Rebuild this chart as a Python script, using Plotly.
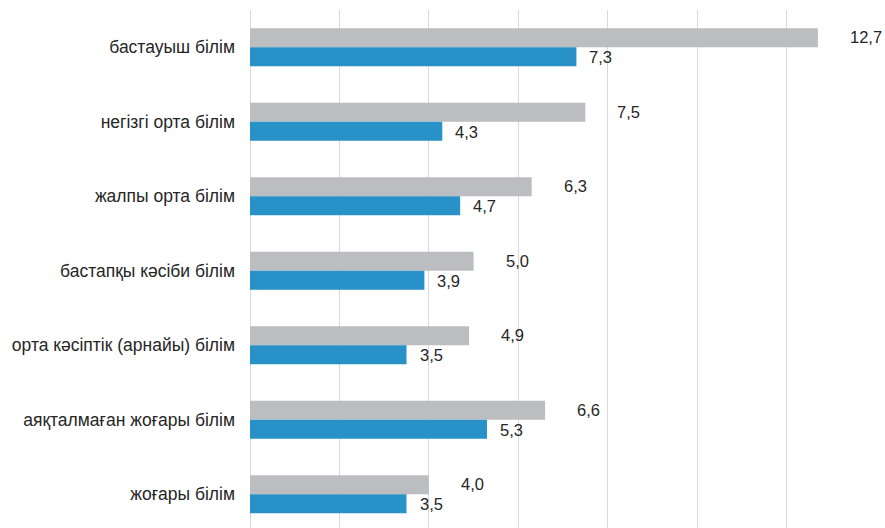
import plotly.graph_objects as go

categories = [
    "бастауыш білім",
    "негізгі орта білім",
    "жалпы орта білім",
    "бастапқы кәсіби білім",
    "орта кәсіптік (арнайы) білім",
    "аяқталмаған жоғары білім",
    "жоғары білім",
]
gray_values = [12.7, 7.5, 6.3, 5.0, 4.9, 6.6, 4.0]
blue_values = [7.3, 4.3, 4.7, 3.9, 3.5, 5.3, 3.5]
tick_values = [0, 2, 4, 6, 8, 10, 12, 14]

GRAY = "#bcbdc0"
BLUE = "#2892c8"
FONT = "Liberation Sans, Arial, sans-serif"
TXT = "#262626"

def fmt(v):
    return f"{v:.1f}".replace(".", ",")

fig = go.Figure()
fig.add_trace(go.Bar(y=categories, x=gray_values, orientation="h",
                     marker=dict(color=GRAY, line=dict(width=0)), name="gray"))
fig.add_trace(go.Bar(y=categories, x=blue_values, orientation="h",
                     marker=dict(color=BLUE, line=dict(width=0)), name="blue"))

annotations = []
for c, g, b in zip(categories, gray_values, blue_values):
    annotations.append(dict(x=g, y=c, xref="x", yref="y", text=fmt(g),
                            showarrow=False, xanchor="left", yanchor="middle",
                            xshift=30, yshift=10,
                            font=dict(family=FONT, size=16.5, color=TXT)))
    annotations.append(dict(x=b, y=c, xref="x", yref="y", text=fmt(b),
                            showarrow=False, xanchor="left", yanchor="middle",
                            xshift=11, yshift=-10,
                            font=dict(family=FONT, size=16.5, color=TXT)))

fig.update_layout(
    width=885, height=528,
    margin=dict(l=250, r=9, t=10, b=0),
    barmode="group", bargap=0.49, bargroupgap=0,
    plot_bgcolor="white", paper_bgcolor="white",
    showlegend=False,
    annotations=annotations,
    font=dict(family=FONT, size=17, color=TXT),
)
fig.update_xaxes(range=[0, 14], tickvals=tick_values, showticklabels=False,
                 showgrid=True, gridcolor="#d9d9d9", gridwidth=1,
                 zeroline=True, zerolinecolor="#d9d9d9", zerolinewidth=1,
                 showline=False, fixedrange=True)
fig.update_yaxes(type="category", range=[6.453, -0.5], showgrid=False,
                 showline=False, zeroline=False, ticks="",
                 ticklabelstandoff=14, tickfont=dict(family=FONT, size=17.5, color=TXT))

fig.write_html("out.html")
